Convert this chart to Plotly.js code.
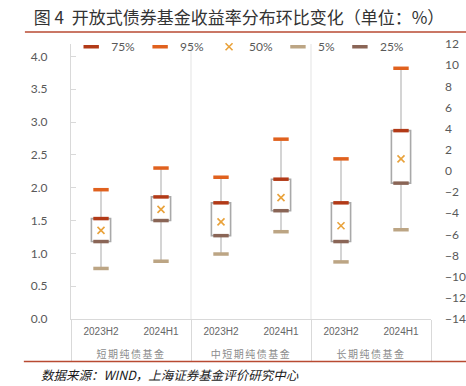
<!DOCTYPE html>
<html><head><meta charset="utf-8">
<script src="https://cdn.plot.ly/plotly-3.0.1.min.js"></script>
<style>html,body{margin:0;padding:0;background:#fff}#chart{width:466px;height:386px}</style>
</head><body><div id="chart"></div>
<script>
const funds = ['短期纯债基金', '中短期纯债基金', '长期纯债基金'];
const periods = ['2023H2', '2024H1'];
const p95 = [1.97, 2.30, 2.16, 2.74, 2.44, 3.82];
const p75 = [1.53, 1.86, 1.77, 2.13, 1.77, 2.87];
const p50 = [1.35, 1.67, 1.48, 1.85, 1.42, 2.44];
const p25 = [1.18, 1.50, 1.27, 1.65, 1.18, 2.07];
const p5  = [0.77, 0.88, 0.99, 1.33, 0.87, 1.36];
const rightTicks = [-14, 12];

const groupLabel = f => '<br><span style="color:#8c8c8c;letter-spacing:1.5px">' + f + '</span>';
const xCats = [
  funds.flatMap(f => periods.map(() => groupLabel(f))),
  funds.flatMap(() => periods)
];

const colors = {p75: '#b23a17', p95: '#e0611e', p50: '#e9a23b', p5: '#bca584', p25: '#8a6556'};

function dashTrace(name, y, color) {
  return {type: 'scatter', mode: 'markers', name: name, x: xCats, y: y,
    marker: {symbol: 'line-ew', size: 11, color: color, line: {color: color, width: 3.5}},
    hoverinfo: 'skip', cliponaxis: false};
}
function whisker(from, to) {
  return {type: 'scatter', mode: 'markers', x: xCats, y: from, showlegend: false, hoverinfo: 'skip',
    marker: {size: 1, opacity: 0},
    error_y: {type: 'data', symmetric: false, array: to.map((v, i) => v - from[i]),
      arrayminus: to.map(() => 0), width: 0, thickness: 2, color: '#d4d4d4'}};
}

const data = [
  {type: 'bar', x: xCats, base: p25, y: p75.map((v, i) => v - p25[i]), width: 0.32,
   marker: {color: 'rgba(255,255,255,0)', line: {color: '#a9a9a9', width: 1.6}},
   showlegend: false, hoverinfo: 'skip'},
  whisker(p5, p25),
  whisker(p75, p95),
  dashTrace('75%', p75, colors.p75),
  dashTrace('95%', p95, colors.p95),
  {type: 'scatter', mode: 'markers', name: '50%', x: xCats, y: p50,
   marker: {symbol: 'x-thin', size: 7, color: colors.p50, line: {color: colors.p50, width: 1.6}},
   hoverinfo: 'skip'},
  dashTrace('5%', p5, colors.p5),
  dashTrace('25%', p25, colors.p25),
  {type: 'scatter', mode: 'markers', x: xCats, y: p50.map(() => null), yaxis: 'y2',
   showlegend: false, hoverinfo: 'skip'}
];

const axFont = {family: 'Lato, "Liberation Sans", sans-serif', size: 12, color: '#595959'};

const layout = {
  width: 466, height: 386,
  margin: {l: 71, r: 35, t: 44, b: 67},
  paper_bgcolor: '#fff', plot_bgcolor: '#fff',
  barmode: 'overlay',
  showlegend: true,
  title: {text: '图 4  开放式债券基金收益率分布环比变化（单位：%）',
    font: {family: '"Noto Sans CJK SC", sans-serif', size: 17, color: '#333'},
    xref: 'container', x: 0.513, xanchor: 'center', yref: 'container', y: 0.953, yanchor: 'middle'},
  legend: {orientation: 'h', x: 0.47, xanchor: 'center', y: 0.99, yanchor: 'middle',
    font: {family: 'Lato, "Liberation Sans", sans-serif', size: 12, color: '#595959'},
    bgcolor: 'rgba(0,0,0,0)', itemwidth: 30, traceorder: 'normal'},
  xaxis: {type: 'multicategory', showline: true, linecolor: '#d9d9d9', linewidth: 1,
    showdividers: true, dividercolor: '#d9d9d9', dividerwidth: 1, showgrid: false, ticks: '',
    ticklabelstandoff: 3,
    tickfont: {family: '"Liberation Sans", "Noto Sans CJK SC", sans-serif', size: 10, color: '#666'}},
  yaxis: {range: [0, 4.19], tick0: 0, dtick: 0.5, tickformat: '.1f', showgrid: false, zeroline: false,
    showline: true, linecolor: '#d9d9d9', ticks: 'inside', ticklen: 5, tickcolor: '#d9d9d9',
    ticklabelstandoff: 20, tickfont: axFont},
  yaxis2: {overlaying: 'y', side: 'right', range: rightTicks, tick0: -14, dtick: 2, showgrid: false,
    zeroline: false, showline: false, ticks: '', ticklabelstandoff: 13, tickfont: axFont},
  shapes: [
    {type: 'line', xref: 'paper', yref: 'paper', x0: 1/3, x1: 1/3, y0: 0, y1: 1, layer: 'below',
     line: {color: '#e3e3e3', width: 1}},
    {type: 'line', xref: 'paper', yref: 'paper', x0: 2/3, x1: 2/3, y0: 0, y1: 1, layer: 'below',
     line: {color: '#e3e3e3', width: 1}},
    {type: 'line', xref: 'paper', yref: 'paper', x0: -0.128, x1: 1.1, y0: 1.0436, y1: 1.0436,
     line: {color: '#b84a32', width: 1.3}},
    {type: 'line', xref: 'paper', yref: 'paper', x0: -0.131, x1: 1.1, y0: -0.1545, y1: -0.1545,
     line: {color: '#b84a32', width: 1.3}}
  ],
  annotations: [
    {text: '<i>数据来源：WIND，上海证券基金评价研究中心</i>', xref: 'paper', yref: 'paper',
     x: -0.088, xanchor: 'left', y: -0.2036, yanchor: 'middle', showarrow: false,
     font: {family: '"Noto Sans CJK SC", sans-serif', size: 12.5, color: '#1a1a1a'}}
  ]
};

Plotly.newPlot('chart', data, layout, {displayModeBar: false, staticPlot: true});
</script>
</body></html>
